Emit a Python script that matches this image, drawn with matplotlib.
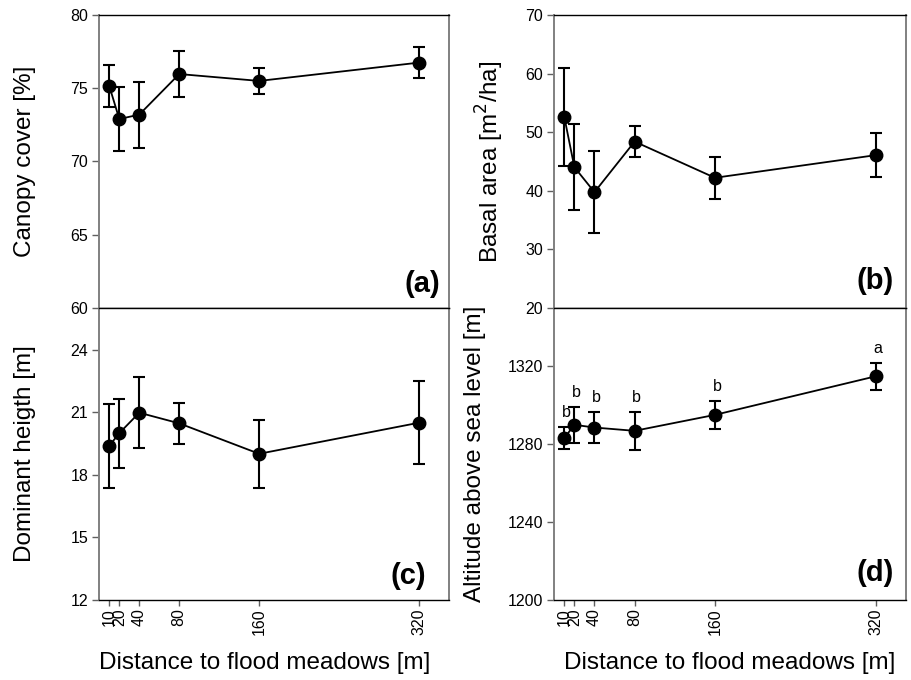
import matplotlib
matplotlib.use("Agg")
import matplotlib.pyplot as plt

plt.rcParams['font.family'] = ['Liberation Sans', 'DejaVu Sans']

distance = [10, 20, 40, 80, 160, 320]
tick_labels = ["10", "20", "40", "80", "160", "320"]

canopy_mean = [75.15, 72.9, 73.2, 75.97, 75.5, 76.75]
canopy_err = [1.45, 2.2, 2.25, 1.57, 0.9, 1.05]

basal_mean = [52.56, 44.03, 39.77, 48.4, 42.22, 46.08]
basal_err = [8.35, 7.35, 7.0, 2.6, 3.6, 3.7]

height_mean = [19.39, 20.0, 20.98, 20.47, 19.01, 20.5]
height_err = [2.0, 1.65, 1.7, 0.97, 1.63, 2.0]

alt_mean = [1283.2, 1290.0, 1288.6, 1286.9, 1295.1, 1314.9]
alt_err = [5.6, 9.3, 7.8, 9.7, 7.2, 6.8]
alt_letters = ["b", "b", "b", "b", "b", "a"]

fig = plt.figure(figsize=(9.12, 6.8), dpi=100)

W, H = 912.0, 680.0
def axes_px(l, r, t, b):
    return fig.add_axes([l / W, 1 - b / H, (r - l) / W, (b - t) / H])

ax_a = axes_px(99.3, 449.0, 15.0, 308.0)
ax_c = axes_px(99.3, 449.0, 308.0, 600.0)
ax_b = axes_px(554.3, 905.7, 15.0, 308.0)
ax_d = axes_px(554.3, 905.7, 308.0, 600.0)

panels = [
    (ax_a, canopy_mean, canopy_err, (60, 80), [60, 65, 70, 75, 80], "Canopy cover [%]", "(a)", -0.2125, (0.974, 0.035)),
    (ax_b, basal_mean, basal_err, (20, 70), [20, 30, 40, 50, 60, 70], "Basal area [m$^{2}$/ha]", "(b)", -0.183, (0.965, 0.045)),
    (ax_c, height_mean, height_err, (12, 26), [12, 15, 18, 21, 24], "Dominant heigth [m]", "(c)", -0.2125, (0.936, 0.035)),
    (ax_d, alt_mean, alt_err, (1200, 1350), [1200, 1240, 1280, 1320], "Altitude above sea level [m]", "(d)", -0.2257, (0.965, 0.045)),
]

for ax, m, e, ylim, yticks, ylabel, plabel, lx, ppos in panels:
    ax.errorbar(distance, m, yerr=e, color='black', marker='o', markersize=9,
                linewidth=1.3, elinewidth=1.5, capsize=4.5, capthick=1.5,
                markeredgecolor='black', markerfacecolor='black', zorder=3)
    ax.set_xlim(0, 350)
    ax.set_ylim(*ylim)
    ax.set_yticks(yticks)
    ax.set_xticks(distance)
    ax.set_ylabel(ylabel, fontsize=17.5, va='center')
    ax.yaxis.set_label_coords(lx, 0.5)
    ax.text(ppos[0], ppos[1], plabel, transform=ax.transAxes, ha='right', va='bottom',
            fontsize=21, fontweight='bold')
    for s in ['left', 'right']:
        ax.spines[s].set_color('#808080')
        ax.spines[s].set_linewidth(1.4)
    for s in ['top', 'bottom']:
        ax.spines[s].set_color('black')
        ax.spines[s].set_linewidth(1.0)
    ax.tick_params(axis='y', direction='out', length=5, width=1, color='#606060',
                   labelsize=11.5, pad=3)
    ax.tick_params(axis='x', direction='out', length=4, width=1, color='#606060',
                   labelsize=11.5, pad=2, top=False)
    ax.tick_params(right=False, top=False)

for ax in (ax_a, ax_b):
    ax.set_xticklabels([])

for ax in (ax_c, ax_d):
    ax.set_xticklabels(tick_labels, rotation=90)
    ax.set_xlabel("Distance to flood meadows [m]", fontsize=17.5, va='center')
ax_c.xaxis.set_label_coords(0.474, -0.216)
ax_d.xaxis.set_label_coords(0.5, -0.216)

for x, m, e, lab in zip(distance, alt_mean, alt_err, alt_letters):
    ax_d.annotate(lab, xy=(x, m + e), xytext=(1.5, 5), textcoords='offset points',
                  ha='center', va='bottom', fontsize=11.5)

fig.savefig("out.png", dpi=100)
